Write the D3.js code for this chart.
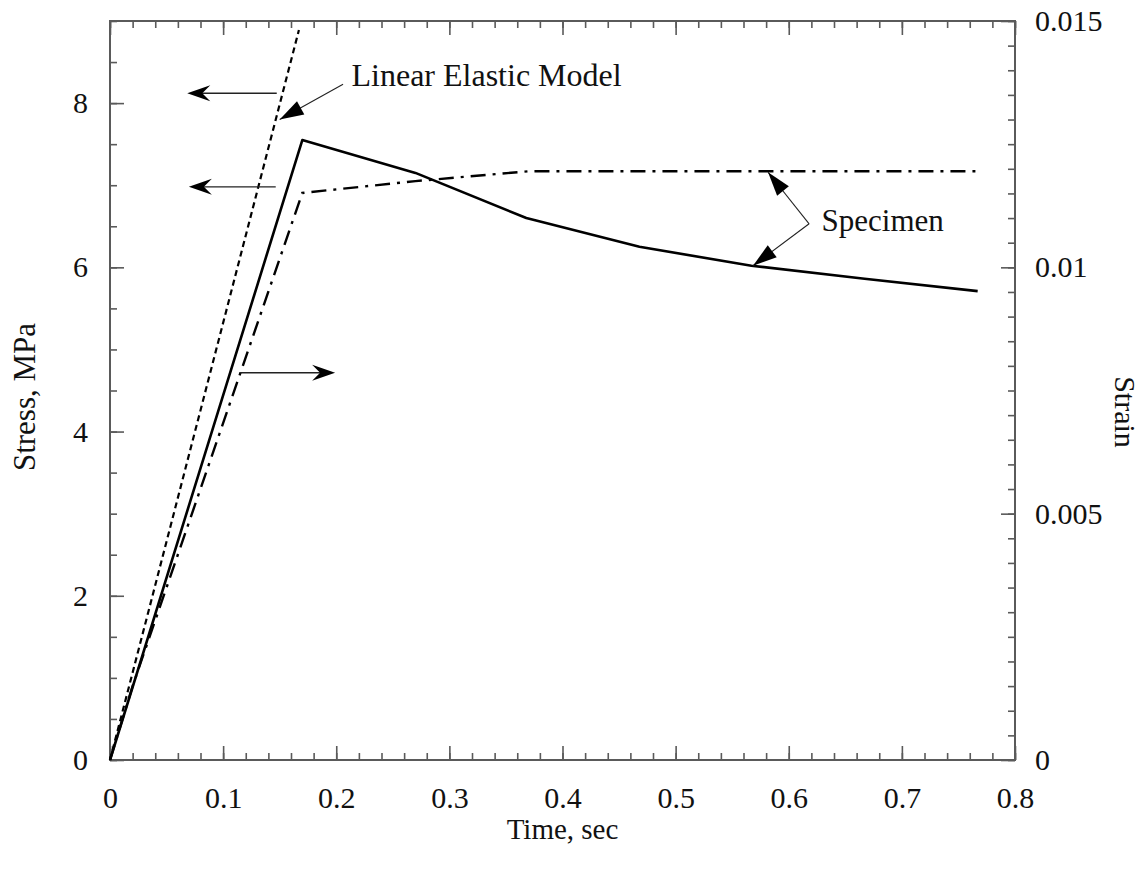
<!DOCTYPE html>
<html>
<head>
<meta charset="utf-8">
<script src="https://cdnjs.cloudflare.com/ajax/libs/d3/7.8.5/d3.min.js"></script>
<style>
	body { margin: 0; background: #ffffff; }
	text { font-family: "Liberation Serif", "Times New Roman", serif; fill: #111; }
</style>
</head>
<body>
<svg id="canvas" width="1147" height="872"></svg>
<script>
// specimen stress (left axis)
var stressTime = [0, 0.17, 0.27, 0.368, 0.468, 0.567, 0.667, 0.767];
var stressVal = [0, 7.55, 7.15, 6.6, 6.25, 6.02, 5.86, 5.71];

// specimen strain (right axis)
var strainTime = [0, 0.02, 0.17, 0.27, 0.37, 0.47, 0.57, 0.67, 0.765];
var strainVal = [0, 0.0015, 0.01151, 0.01175, 0.01195, 0.01195, 0.01195, 0.01195, 0.01195];

// linear elastic model (left axis)
var modelTime = [0, 0.167];
var modelVal = [0, 8.89];

var xTicks = [0, 0.1, 0.2, 0.3, 0.4, 0.5, 0.6, 0.7, 0.8];
var xTickLabels = ["0", "0.1", "0.2", "0.3", "0.4", "0.5", "0.6", "0.7", "0.8"];
var yTicks = [0, 2, 4, 6, 8];
var yTickLabels = ["0", "2", "4", "6", "8"];
var rTicks = [0, 0.005, 0.01, 0.015];
var rTickLabels = ["0", "0.005", "0.01", "0.015"];

function draw(){
	var plotLeft = 110, plotRight = 1015, plotTop = 21, plotBottom = 760;
	var grey = "#5a5a5a";

	var svg = d3.select("#canvas");

	var x = d3.scaleLinear().domain([0, 0.8]).range([plotLeft, plotRight]);
	var y = d3.scaleLinear().domain([0, 9]).range([plotBottom, plotTop]);
	var yr = d3.scaleLinear().domain([0, 0.015]).range([plotBottom, plotTop]);

	function styleAxis(g){
		g.select(".domain").remove();
		g.selectAll("line").attr("stroke", grey).attr("stroke-width", 1.6);
		g.selectAll("text").attr("font-size", 30).attr("fill", "#111")
			.attr("font-family", "Liberation Serif, serif");
	}

	// minor ticks
	var xMinor = d3.range(0, 0.8001, 0.02);
	var yMinor = d3.range(0, 9.0001, 0.5);
	var rMinor = d3.range(0, 0.01501, 0.0005);

	svg.append("g").attr("transform", "translate(0," + plotBottom + ")")
		.call(d3.axisBottom(x).tickValues(xMinor).tickSize(-7).tickFormat(""))
		.call(styleAxis);
	svg.append("g").attr("transform", "translate(0," + plotTop + ")")
		.call(d3.axisTop(x).tickValues(xMinor).tickSize(-7).tickFormat(""))
		.call(styleAxis);
	svg.append("g").attr("transform", "translate(" + plotLeft + ",0)")
		.call(d3.axisLeft(y).tickValues(yMinor).tickSize(-7).tickFormat(""))
		.call(styleAxis);
	svg.append("g").attr("transform", "translate(" + plotRight + ",0)")
		.call(d3.axisRight(yr).tickValues(rMinor).tickSize(-7).tickFormat(""))
		.call(styleAxis);

	// major ticks with labels
	svg.append("g").attr("transform", "translate(0," + plotBottom + ")")
		.call(d3.axisBottom(x).tickValues(xTicks).tickSize(-14).tickPadding(27)
			.tickFormat(function(d, i){ return xTickLabels[i]; }))
		.call(styleAxis);
	svg.append("g").attr("transform", "translate(0," + plotTop + ")")
		.call(d3.axisTop(x).tickValues(xTicks).tickSize(-14).tickFormat(""))
		.call(styleAxis);
	svg.append("g").attr("transform", "translate(" + plotLeft + ",0)")
		.call(d3.axisLeft(y).tickValues(yTicks).tickSize(-14).tickPadding(22)
			.tickFormat(function(d, i){ return yTickLabels[i]; }))
		.call(styleAxis);
	svg.append("g").attr("transform", "translate(" + plotRight + ",0)")
		.call(d3.axisRight(yr).tickValues(rTicks).tickSize(-14).tickPadding(20)
			.tickFormat(function(d, i){ return rTickLabels[i]; }))
		.call(styleAxis);

	// frame
	svg.append("rect")
		.attr("x", plotLeft).attr("y", plotTop)
		.attr("width", plotRight - plotLeft).attr("height", plotBottom - plotTop)
		.attr("fill", "none").attr("stroke", grey).attr("stroke-width", 2);

	// lines
	var lineL = d3.line().x(function(d){ return x(d[0]); }).y(function(d){ return y(d[1]); });
	var lineR = d3.line().x(function(d){ return x(d[0]); }).y(function(d){ return yr(d[1]); });

	svg.append("path")
		.attr("d", lineL(d3.zip(modelTime, modelVal)))
		.attr("style", "stroke-width: 2.2; fill: none; stroke: black; stroke-dasharray: 6,4;");

	svg.append("path")
		.attr("d", lineR(d3.zip(strainTime, strainVal)))
		.attr("style", "stroke-width: 2.4; fill: none; stroke: black; stroke-dasharray: 15,7,3,7;");

	svg.append("path")
		.attr("d", lineL(d3.zip(stressTime, stressVal)))
		.attr("style", "stroke-width: 2.6; fill: none; stroke: black; stroke-linejoin: round;");

	// annotation arrows (horizontal, barbed heads)
	function barbArrow(x1, x2, yy){
		var dir = x2 < x1 ? 1 : -1;
		svg.append("line")
			.attr("x1", x1).attr("y1", yy).attr("x2", x2 + dir * 10).attr("y2", yy)
			.attr("stroke", "#222").attr("stroke-width", 1.3);
		var p = d3.path();
		p.moveTo(x2, yy);
		p.lineTo(x2 + dir * 23, yy - 8);
		p.lineTo(x2 + dir * 15, yy);
		p.lineTo(x2 + dir * 23, yy + 8);
		p.closePath();
		svg.append("path").attr("d", p.toString()).attr("fill", "black");
	}

	function leader(x1, y1, x2, y2){
		svg.append("line")
			.attr("x1", x1).attr("y1", y1).attr("x2", x2).attr("y2", y2)
			.attr("stroke", "#222").attr("stroke-width", 1.1);
		var a = Math.atan2(y1 - y2, x1 - x2);
		var len = 24, hw = 7.5;
		var bx = x2 + len * Math.cos(a), by = y2 + len * Math.sin(a);
		var p = d3.path();
		p.moveTo(x2, y2);
		p.lineTo(bx - hw * Math.sin(a), by + hw * Math.cos(a));
		p.lineTo(bx + hw * Math.sin(a), by - hw * Math.cos(a));
		p.closePath();
		svg.append("path").attr("d", p.toString()).attr("fill", "black");
	}

	barbArrow(x(0.1474), x(0.0683), y(8.12));
	barbArrow(x(0.1465), x(0.0697), y(6.98));
	barbArrow(x(0.115), x(0.199), yr(0.00786));

	leader(x(0.206), y(8.23), x(0.150), y(7.80));
	svg.append("text").attr("x", x(0.2135)).attr("y", y(8.23) + 2)
		.attr("font-size", 32).text("Linear Elastic Model");

	leader(x(0.618), y(6.53), x(0.5817), yr(0.01193));
	leader(x(0.618), y(6.53), x(0.5684), y(6.02));
	svg.append("text").attr("x", x(0.629)).attr("y", y(6.44))
		.attr("font-size", 31).text("Specimen");

	// axis titles
	svg.append("text").attr("x", (plotLeft + plotRight) / 2).attr("y", 839)
		.attr("text-anchor", "middle").attr("font-size", 29).text("Time, sec");
	svg.append("text").attr("transform", "translate(35,397) rotate(-90)")
		.attr("text-anchor", "middle").attr("font-size", 31).text("Stress, MPa");
	svg.append("text").attr("transform", "translate(1115,412) rotate(90)")
		.attr("text-anchor", "middle").attr("font-size", 30).text("Strain");
}

draw();
</script>
</body>
</html>
